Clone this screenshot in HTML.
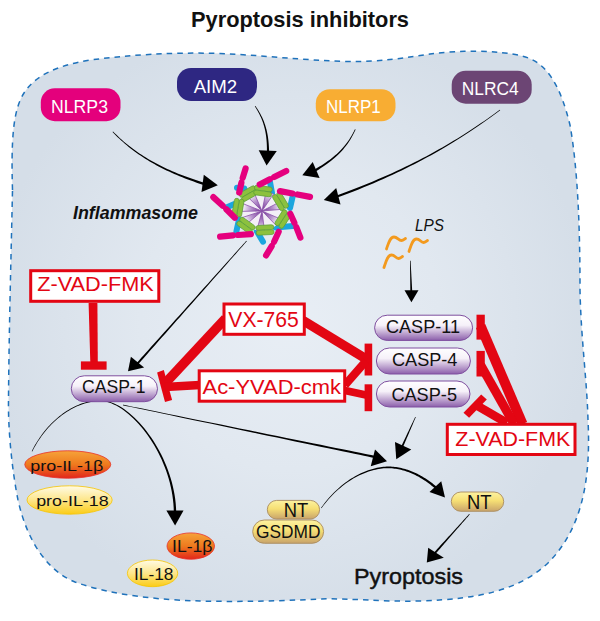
<!DOCTYPE html>
<html><head><meta charset="utf-8">
<style>
html,body{margin:0;padding:0;background:#fff;}
svg{display:block;}
text{font-family:"Liberation Sans",sans-serif;}
</style></head>
<body>
<svg width="600" height="621" viewBox="0 0 600 621">
<defs>
  <radialGradient id="bg" cx="290" cy="320" r="300" gradientUnits="userSpaceOnUse">
    <stop offset="0" stop-color="#e8eef5"/>
    <stop offset="0.5" stop-color="#e1e8f0"/>
    <stop offset="1" stop-color="#d5dee8"/>
  </radialGradient>
  <linearGradient id="casp" x1="0" y1="0" x2="0" y2="1">
    <stop offset="0" stop-color="#ffffff"/>
    <stop offset="0.4" stop-color="#f6f1f9"/>
    <stop offset="1" stop-color="#8c5fab"/>
  </linearGradient>
  <linearGradient id="gold" x1="0" y1="0" x2="0" y2="1">
    <stop offset="0" stop-color="#fdf2a0"/>
    <stop offset="0.45" stop-color="#f6df74"/>
    <stop offset="1" stop-color="#c9a46b"/>
  </linearGradient>
  <linearGradient id="orng" x1="0" y1="0" x2="0" y2="1">
    <stop offset="0" stop-color="#f6a33a"/>
    <stop offset="0.5" stop-color="#ee7a1e"/>
    <stop offset="1" stop-color="#e2261b"/>
  </linearGradient>
  <linearGradient id="yell" x1="0" y1="0" x2="0" y2="1">
    <stop offset="0" stop-color="#fffbe6"/>
    <stop offset="0.5" stop-color="#fde68a"/>
    <stop offset="1" stop-color="#fbcc16"/>
  </linearGradient>
  <radialGradient id="star" cx="262" cy="211" r="20.5" gradientUnits="userSpaceOnUse">
    <stop offset="0" stop-color="#6e2d92"/>
    <stop offset="0.55" stop-color="#b692cc"/>
    <stop offset="1" stop-color="#ffffff"/>
  </radialGradient>
</defs>

<!-- title -->
<text x="191" y="27.4" font-size="22" font-weight="bold" textLength="218" lengthAdjust="spacingAndGlyphs" fill="#111">Pyroptosis inhibitors</text>

<!-- cell -->
<path id="cell" d="M12.5,190 C11,140 13,110 24,93 C35,76 55,66 90,60 C130,55 170,52 220,53.5 C260,55 300,60 345,61.5 C380,62 405,58 430,54 C460,50 498,50 522,56 C548,62 561,88 570,125 C578,170 580,230 580,290 C581,340 587,380 588,420 C591,480 582,528 549,562 C520,590 480,599 420,601 C380,602 350,598 320,599 C280,601 240,602 200,601 C160,600 110,595 75,582 C50,572 28,545 18,500 C12,470 8,430 8.5,400 C9,330 11,260 12.5,190 Z" fill="url(#bg)" stroke="#1f72bb" stroke-width="1.5" stroke-dasharray="5.5 5"/>

<!-- receptor pills -->
<rect x="40.8" y="88.3" width="79.7" height="32.9" rx="14" fill="#e4007c"/>
<text x="51" y="112.5" font-size="18" fill="#fff" textLength="57" lengthAdjust="spacingAndGlyphs">NLRP3</text>
<rect x="177" y="68" width="80" height="33" rx="14" fill="#2e2782"/>
<text x="193.7" y="93" font-size="19" fill="#fff" textLength="43.5" lengthAdjust="spacingAndGlyphs">AIM2</text>
<rect x="315.8" y="89.2" width="79.7" height="32.1" rx="14" fill="#f8ad33"/>
<text x="326" y="113.3" font-size="18" fill="#fff" textLength="54.8" lengthAdjust="spacingAndGlyphs">NLRP1</text>
<rect x="451.7" y="70.8" width="80" height="32.9" rx="14" fill="#6c4574"/>
<text x="461.8" y="94.7" font-size="18" fill="#fff" textLength="57" lengthAdjust="spacingAndGlyphs">NLRC4</text>

<text x="73" y="218.75" font-size="18" font-weight="bold" font-style="italic" fill="#111" textLength="125" lengthAdjust="spacingAndGlyphs">Inflammasome</text>


<!-- LPS -->
<text x="415" y="230.6" font-size="16.5" font-style="italic" fill="#111" textLength="29" lengthAdjust="spacingAndGlyphs">LPS</text>
<g fill="none" stroke="#f39a1e" stroke-width="2.8" stroke-linecap="round">
  <path d="M386.5,249 C388.5,243 390,237 394,237 C397.5,237 398.5,240.5 401.5,240.5 C403,240.5 404,239.5 405.5,238.5"/>
  <path d="M409,251.5 C411,245.5 412.5,239 416.5,239 C420,239 420.5,242.5 423.5,242.5 C425,242.5 426,241.5 427.5,240.5"/>
  <path d="M384,267.5 C386,261.5 387.5,255 391.5,255 C395,255 395.5,258.5 398.5,258.5 C400,258.5 401,257.5 402.5,256.5"/>
</g>

<!-- black arrows -->
<g fill="#000" stroke="none">
  <path d="M112.55,131.94 L114.22,133.69 L115.92,135.42 L117.65,137.13 L119.41,138.81 L121.20,140.47 L123.03,142.11 L124.88,143.73 L126.77,145.32 L128.69,146.89 L130.64,148.44 L132.62,149.97 L134.64,151.48 L136.69,152.96 L138.77,154.43 L140.89,155.87 L143.04,157.29 L145.23,158.69 L147.45,160.08 L149.70,161.44 L152.00,162.78 L154.32,164.10 L156.68,165.40 L159.08,166.68 L161.52,167.94 L163.99,169.18 L166.50,170.40 L169.04,171.61 L171.63,172.79 L174.25,173.96 L176.91,175.11 L179.61,176.24 L182.34,177.35 L185.12,178.44 L187.93,179.51 L190.79,180.57 L193.68,181.61 L196.62,182.63 L199.59,183.64 L202.61,184.63 L205.66,185.60 L206.34,183.40 L203.28,182.48 L200.27,181.54 L197.30,180.59 L194.37,179.61 L191.48,178.62 L188.63,177.62 L185.82,176.59 L183.05,175.54 L180.31,174.48 L177.62,173.40 L174.96,172.30 L172.34,171.18 L169.76,170.04 L167.21,168.88 L164.71,167.71 L162.23,166.51 L159.80,165.29 L157.40,164.06 L155.03,162.80 L152.70,161.52 L150.41,160.23 L148.15,158.91 L145.93,157.57 L143.74,156.21 L141.58,154.83 L139.45,153.43 L137.36,152.00 L135.31,150.56 L133.28,149.09 L131.29,147.60 L129.32,146.09 L127.39,144.56 L125.50,143.00 L123.63,141.42 L121.79,139.82 L119.98,138.19 L118.21,136.55 L116.46,134.87 L114.74,133.18 L113.05,131.46Z"/>
  <path d="M254.81,106.29 L255.38,107.19 L255.94,108.09 L256.49,108.99 L257.03,109.90 L257.55,110.81 L258.06,111.72 L258.56,112.64 L259.05,113.56 L259.53,114.49 L259.99,115.43 L260.44,116.38 L260.88,117.33 L261.30,118.30 L261.71,119.28 L262.10,120.28 L262.48,121.28 L262.85,122.30 L263.20,123.34 L263.54,124.39 L263.86,125.46 L264.17,126.55 L264.46,127.66 L264.74,128.79 L265.00,129.94 L265.25,131.11 L265.48,132.31 L265.69,133.52 L265.89,134.77 L266.07,136.04 L266.23,137.34 L266.38,138.66 L266.51,140.02 L266.62,141.40 L266.72,142.81 L266.79,144.26 L266.85,145.74 L266.89,147.25 L266.91,148.80 L266.92,150.38 L266.90,152.01 L269.10,151.99 L269.07,150.36 L269.01,148.75 L268.94,147.18 L268.85,145.64 L268.75,144.14 L268.62,142.67 L268.48,141.23 L268.32,139.83 L268.15,138.45 L267.96,137.10 L267.75,135.79 L267.53,134.50 L267.29,133.23 L267.03,132.00 L266.76,130.78 L266.47,129.59 L266.16,128.43 L265.85,127.29 L265.51,126.16 L265.16,125.06 L264.80,123.98 L264.42,122.92 L264.03,121.87 L263.63,120.84 L263.21,119.83 L262.77,118.83 L262.33,117.85 L261.87,116.87 L261.39,115.92 L260.91,114.97 L260.41,114.03 L259.90,113.10 L259.38,112.18 L258.84,111.27 L258.29,110.37 L257.74,109.47 L257.17,108.57 L256.59,107.68 L255.99,106.79 L255.39,105.91Z"/>
  <path d="M354.98,129.15 L354.42,130.31 L353.84,131.46 L353.25,132.59 L352.65,133.71 L352.04,134.82 L351.41,135.91 L350.76,137.00 L350.10,138.07 L349.43,139.13 L348.73,140.18 L348.01,141.22 L347.28,142.26 L346.52,143.28 L345.74,144.30 L344.94,145.31 L344.11,146.31 L343.26,147.30 L342.38,148.29 L341.48,149.28 L340.54,150.26 L339.58,151.23 L338.59,152.20 L337.56,153.17 L336.51,154.13 L335.42,155.10 L334.30,156.05 L333.14,157.01 L331.95,157.97 L330.71,158.93 L329.45,159.88 L328.14,160.84 L326.79,161.80 L325.40,162.76 L323.97,163.72 L322.49,164.68 L320.98,165.65 L319.41,166.62 L317.80,167.59 L316.15,168.57 L314.44,169.55 L315.56,171.45 L317.25,170.41 L318.90,169.38 L320.51,168.35 L322.06,167.33 L323.58,166.31 L325.05,165.30 L326.47,164.29 L327.86,163.28 L329.20,162.27 L330.50,161.27 L331.76,160.26 L332.99,159.26 L334.18,158.26 L335.33,157.25 L336.45,156.25 L337.53,155.24 L338.58,154.23 L339.59,153.22 L340.58,152.21 L341.53,151.19 L342.46,150.17 L343.35,149.15 L344.22,148.12 L345.06,147.08 L345.87,146.04 L346.66,145.00 L347.43,143.95 L348.17,142.89 L348.89,141.82 L349.59,140.74 L350.27,139.66 L350.92,138.57 L351.56,137.47 L352.19,136.35 L352.79,135.23 L353.39,134.10 L353.96,132.95 L354.53,131.80 L355.08,130.63 L355.62,129.45Z"/>
  <path d="M499.79,109.72 L496.76,111.96 L493.70,114.19 L490.59,116.43 L487.45,118.66 L484.26,120.89 L481.03,123.12 L477.75,125.35 L474.43,127.58 L471.06,129.80 L467.64,132.02 L464.18,134.23 L460.66,136.45 L457.09,138.65 L453.47,140.86 L449.79,143.06 L446.06,145.25 L442.27,147.44 L438.42,149.62 L434.51,151.79 L430.55,153.96 L426.52,156.13 L422.43,158.28 L418.27,160.43 L414.05,162.57 L409.76,164.70 L405.41,166.82 L400.98,168.94 L396.49,171.04 L391.92,173.14 L387.28,175.22 L382.57,177.30 L377.78,179.36 L372.91,181.42 L367.97,183.46 L362.95,185.49 L357.85,187.51 L352.67,189.52 L347.41,191.51 L342.06,193.50 L336.62,195.47 L337.38,197.53 L342.81,195.52 L348.15,193.48 L353.42,191.44 L358.59,189.39 L363.69,187.32 L368.71,185.24 L373.65,183.15 L378.51,181.05 L383.29,178.94 L388.00,176.82 L392.64,174.70 L397.20,172.56 L401.69,170.41 L406.10,168.26 L410.45,166.09 L414.74,163.92 L418.95,161.74 L423.10,159.56 L427.18,157.36 L431.20,155.16 L435.16,152.96 L439.06,150.74 L442.90,148.53 L446.68,146.30 L450.40,144.07 L454.07,141.84 L457.68,139.61 L461.24,137.36 L464.74,135.12 L468.20,132.87 L471.60,130.62 L474.96,128.37 L478.27,126.11 L481.53,123.85 L484.75,121.59 L487.93,119.33 L491.06,117.07 L494.15,114.81 L497.20,112.54 L500.21,110.28Z"/>
  <path d="M246.44,240.67 L246.24,240.89 L245.64,241.55 L244.68,242.63 L243.37,244.09 L241.73,245.92 L239.78,248.09 L237.54,250.58 L235.03,253.37 L232.28,256.44 L229.30,259.76 L226.12,263.30 L222.75,267.06 L219.21,270.99 L215.53,275.09 L211.73,279.32 L207.83,283.67 L203.84,288.11 L199.79,292.62 L195.71,297.17 L191.60,301.75 L187.49,306.33 L183.40,310.88 L179.35,315.39 L175.36,319.83 L171.46,324.18 L167.66,328.41 L163.98,332.51 L160.45,336.45 L157.08,340.20 L153.89,343.75 L150.91,347.06 L148.16,350.13 L145.65,352.92 L143.42,355.41 L141.47,357.59 L139.82,359.41 L138.51,360.88 L137.55,361.95 L136.96,362.61 L136.75,362.83 L138.25,364.17 L138.45,363.94 L139.03,363.27 L139.99,362.19 L141.29,360.72 L142.92,358.88 L144.85,356.69 L147.07,354.18 L149.55,351.37 L152.28,348.28 L155.23,344.94 L158.39,341.37 L161.73,337.59 L165.23,333.63 L168.88,329.50 L172.64,325.24 L176.51,320.86 L180.47,316.39 L184.48,311.85 L188.53,307.26 L192.60,302.65 L196.68,298.04 L200.73,293.45 L204.74,288.91 L208.69,284.44 L212.56,280.06 L216.33,275.80 L219.98,271.67 L223.48,267.71 L226.82,263.93 L229.97,260.36 L232.93,257.02 L235.66,253.93 L238.14,251.12 L240.36,248.61 L242.29,246.42 L243.92,244.58 L245.22,243.11 L246.17,242.02 L246.76,241.36 L246.96,241.13Z"/>
  <path d="M410.00,260.81 L410.00,260.87 L410.00,261.04 L410.01,261.31 L410.01,261.68 L410.02,262.15 L410.02,262.71 L410.03,263.34 L410.04,264.06 L410.05,264.84 L410.05,265.69 L410.07,266.59 L410.08,267.55 L410.09,268.56 L410.10,269.61 L410.11,270.69 L410.12,271.80 L410.14,272.93 L410.15,274.09 L410.16,275.25 L410.18,276.42 L410.19,277.59 L410.20,278.75 L410.21,279.91 L410.23,281.04 L410.24,282.15 L410.25,283.23 L410.26,284.28 L410.27,285.29 L410.29,286.25 L410.30,287.15 L410.31,288.00 L410.31,288.78 L410.32,289.50 L410.33,290.13 L410.34,290.69 L410.34,291.16 L410.34,291.53 L410.35,291.80 L410.35,291.97 L410.35,292.03 L412.25,291.97 L412.25,291.91 L412.24,291.74 L412.22,291.47 L412.20,291.10 L412.18,290.63 L412.15,290.08 L412.12,289.44 L412.08,288.73 L412.04,287.94 L411.99,287.10 L411.94,286.19 L411.89,285.23 L411.84,284.23 L411.78,283.18 L411.73,282.10 L411.67,280.99 L411.61,279.86 L411.55,278.71 L411.49,277.55 L411.42,276.38 L411.36,275.21 L411.30,274.05 L411.24,272.90 L411.18,271.77 L411.12,270.66 L411.06,269.58 L411.01,268.53 L410.96,267.53 L410.91,266.57 L410.86,265.66 L410.81,264.82 L410.77,264.03 L410.73,263.32 L410.70,262.68 L410.67,262.13 L410.65,261.66 L410.63,261.29 L410.61,261.02 L410.60,260.85 L410.60,260.79Z"/>
  <path d="M32.27,451.54 L33.27,449.57 L34.31,447.62 L35.40,445.68 L36.53,443.76 L37.70,441.87 L38.91,439.99 L40.16,438.14 L41.46,436.31 L42.79,434.51 L44.16,432.74 L45.57,430.99 L47.01,429.28 L48.49,427.60 L50.01,425.96 L51.56,424.35 L53.15,422.78 L54.76,421.25 L56.42,419.76 L58.10,418.31 L59.81,416.91 L61.56,415.56 L63.33,414.25 L65.14,413.00 L66.97,411.79 L68.83,410.64 L70.71,409.55 L72.62,408.51 L74.56,407.53 L76.52,406.61 L78.51,405.75 L80.52,404.95 L82.55,404.22 L84.60,403.55 L86.68,402.96 L88.77,402.43 L90.89,401.97 L93.02,401.59 L95.17,401.28 L97.34,401.05 L99.54,400.90 L99.46,399.90 L97.25,400.07 L95.05,400.31 L92.86,400.63 L90.70,401.03 L88.55,401.51 L86.43,402.05 L84.33,402.66 L82.25,403.35 L80.19,404.10 L78.16,404.92 L76.16,405.79 L74.17,406.74 L72.22,407.74 L70.29,408.80 L68.39,409.91 L66.51,411.09 L64.67,412.31 L62.85,413.59 L61.07,414.91 L59.31,416.29 L57.59,417.71 L55.90,419.17 L54.24,420.68 L52.61,422.23 L51.02,423.82 L49.47,425.45 L47.95,427.11 L46.46,428.81 L45.02,430.54 L43.61,432.30 L42.24,434.09 L40.90,435.91 L39.61,437.76 L38.36,439.63 L37.15,441.52 L35.98,443.44 L34.85,445.37 L33.77,447.32 L32.73,449.29 L31.73,451.26Z"/>
  <path d="M99.48,400.85 L101.77,400.96 L104.09,401.27 L106.45,401.77 L108.85,402.46 L111.27,403.34 L113.73,404.39 L116.20,405.62 L118.69,407.01 L121.18,408.58 L123.68,410.30 L126.18,412.18 L128.67,414.21 L131.15,416.38 L133.61,418.70 L136.04,421.15 L138.45,423.73 L140.83,426.44 L143.16,429.27 L145.45,432.22 L147.69,435.27 L149.87,438.44 L151.99,441.70 L154.05,445.06 L156.03,448.51 L157.94,452.05 L159.77,455.67 L161.51,459.36 L163.15,463.13 L164.70,466.96 L166.15,470.85 L167.49,474.80 L168.71,478.80 L169.82,482.84 L170.80,486.93 L171.65,491.05 L172.37,495.20 L172.95,499.38 L173.38,503.58 L173.67,507.79 L173.80,512.04 L176.20,511.96 L176.02,507.67 L175.69,503.37 L175.20,499.10 L174.56,494.85 L173.79,490.63 L172.88,486.45 L171.84,482.31 L170.67,478.22 L169.39,474.17 L167.99,470.18 L166.49,466.25 L164.88,462.39 L163.17,458.59 L161.37,454.87 L159.49,451.23 L157.52,447.67 L155.47,444.20 L153.36,440.83 L151.18,437.55 L148.94,434.38 L146.64,431.31 L144.30,428.35 L141.91,425.52 L139.48,422.80 L137.01,420.21 L134.52,417.75 L132.00,415.43 L129.47,413.26 L126.92,411.22 L124.36,409.34 L121.81,407.62 L119.25,406.05 L116.70,404.66 L114.16,403.43 L111.65,402.38 L109.15,401.51 L106.68,400.83 L104.25,400.34 L101.85,400.04 L99.52,399.95Z"/>
  <path d="M122.94,405.29 L123.40,405.39 L124.77,405.68 L126.98,406.14 L129.99,406.77 L133.76,407.56 L138.24,408.50 L143.38,409.58 L149.13,410.78 L155.45,412.11 L162.29,413.54 L169.60,415.07 L177.34,416.70 L185.45,418.40 L193.89,420.17 L202.62,421.99 L211.59,423.87 L220.74,425.79 L230.03,427.74 L239.42,429.71 L248.86,431.69 L258.29,433.66 L267.68,435.63 L276.98,437.58 L286.13,439.50 L295.09,441.38 L303.82,443.21 L312.27,444.98 L320.38,446.68 L328.12,448.30 L335.43,449.83 L342.27,451.26 L348.59,452.59 L354.34,453.79 L359.48,454.87 L363.96,455.81 L367.73,456.60 L370.74,457.23 L372.95,457.69 L374.31,457.98 L374.78,458.08 L375.22,455.92 L374.76,455.83 L373.39,455.55 L371.18,455.10 L368.16,454.49 L364.39,453.72 L359.90,452.81 L354.76,451.77 L349.00,450.60 L342.67,449.31 L335.82,447.92 L328.50,446.43 L320.76,444.86 L312.63,443.21 L304.18,441.49 L295.44,439.72 L286.46,437.89 L277.30,436.03 L267.99,434.14 L258.59,432.23 L249.14,430.31 L239.69,428.40 L230.29,426.49 L220.99,424.60 L211.82,422.73 L202.85,420.91 L194.11,419.14 L185.65,417.42 L177.53,415.77 L169.78,414.20 L162.46,412.71 L155.61,411.32 L149.29,410.03 L143.53,408.86 L138.38,407.82 L133.90,406.91 L130.12,406.14 L127.10,405.53 L124.89,405.08 L123.53,404.80 L123.06,404.71Z"/>
  <path d="M415.23,416.88 L415.20,416.93 L415.12,417.09 L415.00,417.35 L414.83,417.71 L414.62,418.15 L414.37,418.68 L414.08,419.29 L413.76,419.97 L413.41,420.72 L413.02,421.52 L412.62,422.39 L412.18,423.30 L411.73,424.26 L411.26,425.25 L410.77,426.28 L410.27,427.34 L409.75,428.42 L409.23,429.52 L408.71,430.63 L408.18,431.74 L407.65,432.86 L407.13,433.97 L406.61,435.06 L406.09,436.14 L405.59,437.20 L405.10,438.23 L404.63,439.23 L404.18,440.19 L403.74,441.10 L403.34,441.96 L402.95,442.77 L402.60,443.52 L402.28,444.20 L401.99,444.80 L401.74,445.33 L401.53,445.78 L401.36,446.13 L401.24,446.39 L401.16,446.56 L401.13,446.61 L402.87,447.39 L402.89,447.33 L402.96,447.17 L403.07,446.90 L403.23,446.54 L403.42,446.09 L403.65,445.55 L403.91,444.93 L404.21,444.24 L404.53,443.48 L404.88,442.66 L405.26,441.78 L405.65,440.85 L406.07,439.88 L406.50,438.86 L406.95,437.81 L407.41,436.74 L407.88,435.64 L408.36,434.52 L408.84,433.39 L409.32,432.26 L409.80,431.12 L410.28,429.99 L410.76,428.88 L411.23,427.78 L411.69,426.70 L412.14,425.65 L412.57,424.64 L412.99,423.66 L413.38,422.73 L413.76,421.85 L414.11,421.03 L414.43,420.27 L414.73,419.58 L414.99,418.96 L415.22,418.42 L415.41,417.97 L415.57,417.61 L415.68,417.34 L415.75,417.18 L415.77,417.12Z"/>
  <path d="M321.45,508.15 L323.26,505.73 L325.09,503.41 L326.93,501.17 L328.79,499.02 L330.67,496.96 L332.56,494.98 L334.46,493.08 L336.37,491.27 L338.29,489.53 L340.22,487.88 L342.15,486.30 L344.08,484.79 L346.02,483.37 L347.95,482.01 L349.88,480.73 L351.80,479.52 L353.72,478.37 L355.63,477.30 L357.53,476.29 L359.42,475.35 L361.30,474.48 L363.16,473.66 L365.00,472.91 L366.82,472.22 L368.62,471.59 L370.40,471.02 L372.16,470.50 L373.89,470.04 L375.59,469.63 L377.26,469.28 L378.90,468.97 L380.51,468.72 L382.08,468.51 L383.61,468.36 L385.11,468.25 L386.56,468.18 L387.97,468.16 L389.34,468.18 L390.66,468.24 L391.93,468.34 L393.26,468.47 L394.57,468.63 L395.87,468.82 L397.16,469.03 L398.45,469.27 L399.71,469.54 L400.97,469.83 L402.22,470.14 L403.46,470.48 L404.69,470.85 L405.90,471.23 L407.11,471.64 L408.31,472.07 L409.49,472.52 L410.67,472.99 L411.84,473.49 L413.00,474.00 L414.14,474.53 L415.28,475.09 L416.41,475.66 L417.53,476.25 L418.64,476.86 L419.75,477.49 L420.84,478.13 L421.92,478.79 L423.00,479.47 L424.07,480.16 L425.13,480.87 L426.18,481.59 L427.22,482.33 L428.25,483.08 L429.28,483.84 L430.30,484.62 L431.31,485.41 L432.31,486.22 L433.30,487.03 L434.29,487.86 L435.27,488.69 L436.24,489.54 L437.21,490.40 L438.79,488.60 L437.80,487.74 L436.80,486.89 L435.79,486.06 L434.78,485.23 L433.75,484.41 L432.72,483.61 L431.68,482.81 L430.63,482.04 L429.57,481.27 L428.50,480.52 L427.42,479.78 L426.34,479.05 L425.25,478.34 L424.14,477.65 L423.03,476.97 L421.91,476.31 L420.78,475.67 L419.64,475.04 L418.50,474.43 L417.34,473.84 L416.17,473.27 L414.99,472.72 L413.81,472.18 L412.61,471.67 L411.40,471.18 L410.19,470.71 L408.96,470.27 L407.72,469.84 L406.48,469.44 L405.22,469.06 L403.95,468.71 L402.67,468.38 L401.39,468.07 L400.09,467.79 L398.78,467.53 L397.46,467.31 L396.13,467.10 L394.79,466.93 L393.43,466.78 L392.07,466.66 L390.75,466.58 L389.37,466.53 L387.96,466.53 L386.50,466.58 L385.00,466.67 L383.46,466.80 L381.89,466.99 L380.28,467.22 L378.64,467.50 L376.96,467.83 L375.26,468.22 L373.53,468.66 L371.77,469.16 L369.99,469.71 L368.19,470.32 L366.36,470.99 L364.52,471.71 L362.66,472.50 L360.78,473.36 L358.89,474.27 L356.99,475.25 L355.08,476.30 L353.16,477.41 L351.23,478.60 L349.30,479.85 L347.37,481.17 L345.43,482.57 L343.50,484.04 L341.57,485.58 L339.65,487.20 L337.73,488.90 L335.82,490.68 L333.92,492.53 L332.03,494.47 L330.15,496.49 L328.29,498.59 L326.45,500.77 L324.63,503.05 L322.83,505.41 L321.05,507.85Z"/>
  <path d="M469.24,513.97 L469.17,514.04 L468.98,514.25 L468.66,514.60 L468.23,515.07 L467.69,515.66 L467.05,516.36 L466.32,517.16 L465.50,518.06 L464.59,519.05 L463.62,520.12 L462.57,521.26 L461.47,522.47 L460.31,523.74 L459.10,525.06 L457.85,526.42 L456.57,527.82 L455.26,529.26 L453.94,530.71 L452.59,532.18 L451.25,533.65 L449.90,535.13 L448.56,536.59 L447.23,538.05 L445.92,539.48 L444.64,540.88 L443.39,542.24 L442.19,543.56 L441.03,544.83 L439.92,546.04 L438.88,547.18 L437.90,548.25 L437.00,549.24 L436.17,550.14 L435.44,550.94 L434.80,551.64 L434.26,552.23 L433.83,552.70 L433.51,553.05 L433.32,553.26 L433.25,553.33 L434.75,554.67 L434.81,554.59 L435.00,554.37 L435.31,554.02 L435.73,553.54 L436.25,552.94 L436.87,552.22 L437.59,551.40 L438.39,550.48 L439.27,549.47 L440.22,548.38 L441.23,547.21 L442.31,545.98 L443.44,544.68 L444.61,543.33 L445.83,541.94 L447.07,540.50 L448.34,539.04 L449.64,537.56 L450.94,536.06 L452.25,534.55 L453.57,533.04 L454.87,531.54 L456.16,530.06 L457.44,528.59 L458.68,527.16 L459.90,525.77 L461.07,524.42 L462.20,523.12 L463.27,521.89 L464.29,520.72 L465.24,519.63 L466.12,518.62 L466.92,517.70 L467.63,516.88 L468.26,516.16 L468.78,515.56 L469.20,515.08 L469.51,514.72 L469.70,514.51 L469.76,514.43Z"/>
</g>
<g fill="#000">
  <polygon points="203.8,174.8 201.5,191.9 217.8,185.3"/>
  <polygon points="258.7,150.3 276.8,151.1 266.6,165.6"/>
  <polygon points="312.7,162 319.6,178 302.3,175.3"/>
  <polygon points="336.2,188 340.5,204.5 323.8,200"/>
  <polygon points="130.9,356.7 144.1,367.6 128,371.2"/>
  <polygon points="404.5,290.3 418.5,290.3 411.4,302.3"/>
  <polygon points="166.4,510.5 183.5,510.5 175.1,525.5"/>
  <polygon points="375,449.5 370.75,466.25 387,461.25"/>
  <polygon points="395,442 411.25,449.5 396.25,459.25"/>
  <polygon points="429.5,492 441.25,481.25 445,497.5"/>
  <polygon points="428.2,547.8 443.8,557.8 426.8,562.5"/>
</g>

<!-- red inhibitors -->
<g fill="#e30613" stroke="none">
  <polygon points="88.6,303 97.4,303 97.8,362 90.3,362"/>
  <rect x="80.9" y="361.4" width="25.7" height="8.3"/>
  <polygon points="157.1,372.6 163.8,370 172.1,400.1 165,401.9"/>
  <rect x="364.6" y="343.6" width="7.6" height="31.9"/>
  <rect x="364.6" y="384.3" width="7.6" height="26.9"/>
  <rect x="476.5" y="314.7" width="8.3" height="24.9"/>
  <rect x="476.5" y="350.9" width="8.3" height="25.6"/>
  <polygon points="463.5,412.7 481.2,394.6 486.8,399.6 469.1,417.7"/>
</g>
<g fill="none" stroke="#e30613" stroke-linecap="butt">
  <path d="M225.5,318.5 L164.5,384" stroke-width="9.6"/>
  <path d="M200,385 L165,387" stroke-width="8.5"/>
  <path d="M303,320.5 L367,359.5" stroke-width="9.6"/>
  <path d="M345,385 L366,361" stroke-width="8"/>
  <path d="M345,390.5 L366,395" stroke-width="7.5"/>
  <path d="M480.6,326 L522.5,424" stroke-width="10"/>
  <path d="M480.6,365 L514,424" stroke-width="9"/>
  <path d="M476,405 L507,423" stroke-width="8.5"/>
</g>
<g fill="#fff" stroke="#e30613" stroke-width="3">
  <rect x="30.7" y="270.7" width="128.1" height="30.6"/>
  <rect x="224" y="304" width="80.3" height="30.3"/>
  <rect x="199.2" y="370.8" width="145.5" height="30.4"/>
  <rect x="447.3" y="424.3" width="127.7" height="30.2"/>
</g>
<g fill="#e30613" font-size="21">
  <text x="37.2" y="290.7" textLength="116.5" lengthAdjust="spacingAndGlyphs">Z-VAD-FMK</text>
  <text x="228.3" y="326.7" font-size="21.5" textLength="70.5" lengthAdjust="spacingAndGlyphs">VX-765</text>
  <text x="202.5" y="394.1" textLength="138.5" lengthAdjust="spacingAndGlyphs">Ac-YVAD-cmk</text>
  <text x="455.3" y="445.5" textLength="115" lengthAdjust="spacingAndGlyphs">Z-VAD-FMK</text>
</g>

<!-- caspase pills -->
<g fill="url(#casp)" stroke="#7f4f9f" stroke-width="1">
  <rect x="71.3" y="375.8" width="86.2" height="25.9" rx="12.95"/>
  <rect x="374.6" y="315.2" width="98" height="25.2" rx="12.6"/>
  <rect x="376.4" y="348" width="94" height="26" rx="13"/>
  <rect x="376.4" y="381" width="93.6" height="26" rx="13"/>
</g>
<g fill="#111" font-size="18">
  <text x="82" y="393.3" textLength="63.5" lengthAdjust="spacingAndGlyphs">CASP-1</text>
  <text x="386" y="333" textLength="74" lengthAdjust="spacingAndGlyphs">CASP-11</text>
  <text x="392" y="366" textLength="65.4" lengthAdjust="spacingAndGlyphs">CASP-4</text>
  <text x="391.4" y="400.6" textLength="65.6" lengthAdjust="spacingAndGlyphs">CASP-5</text>
</g>

<!-- gold pills -->
<g fill="url(#gold)" stroke="#a98b5e" stroke-width="0.9">
  <rect x="267.3" y="500.4" width="52.3" height="18.6" rx="9.3"/>
  <rect x="252.7" y="520" width="70.9" height="23.3" rx="11.6"/>
  <rect x="451.3" y="492" width="52.4" height="19.3" rx="9.6"/>
</g>
<g fill="#111" font-size="18">
  <text x="283.8" y="516.6" font-size="19.5" textLength="24.5" lengthAdjust="spacingAndGlyphs">NT</text>
  <text x="256" y="538" font-size="17.5" textLength="64.5" lengthAdjust="spacingAndGlyphs">GSDMD</text>
  <text x="467" y="508.6" font-size="19.5" textLength="24.5" lengthAdjust="spacingAndGlyphs">NT</text>
</g>

<!-- interleukins -->
<ellipse cx="67.75" cy="464.5" rx="43" ry="13.75" fill="url(#orng)" stroke="#e8312a" stroke-width="0.8"/>
<ellipse cx="69.6" cy="500" rx="42.6" ry="14.2" fill="url(#yell)" stroke="#f6c400" stroke-width="0.8"/>
<ellipse cx="190.75" cy="546.1" rx="23.75" ry="13.2" fill="url(#orng)" stroke="#e8312a" stroke-width="0.8"/>
<ellipse cx="152.55" cy="573.35" rx="25.15" ry="13.35" fill="url(#yell)" stroke="#f6c400" stroke-width="0.8"/>
<g fill="#111" font-size="15.5">
  <text x="30.3" y="470.5" textLength="73" lengthAdjust="spacingAndGlyphs">pro-IL-1β</text>
  <text x="36.2" y="505.5" textLength="72.5" lengthAdjust="spacingAndGlyphs">pro-IL-18</text>
  <text x="172" y="551.7" font-size="16.5" textLength="40.5" lengthAdjust="spacingAndGlyphs">IL-1β</text>
  <text x="134" y="580.3" font-size="16.5" textLength="39.5" lengthAdjust="spacingAndGlyphs">IL-18</text>
</g>

<text x="354" y="583.5" font-size="22.5" fill="#111" stroke="#111" stroke-width="0.45" textLength="109" lengthAdjust="spacingAndGlyphs">Pyroptosis</text>

<!-- inflammasome -->
<g id="inflam">
<g stroke="#1ba6de" stroke-width="6" stroke-linecap="round"><line x1="272.0" y1="193.0" x2="270.0" y2="182.0"/><line x1="290.0" y1="208.0" x2="293.0" y2="195.0"/><line x1="275.5" y1="227.5" x2="293.0" y2="226.0"/><line x1="256.8" y1="231.3" x2="263.0" y2="241.7"/><line x1="239.0" y1="219.7" x2="236.4" y2="231.3"/><line x1="234.4" y1="204.0" x2="227.0" y2="207.2"/><line x1="244.3" y1="188.4" x2="237.0" y2="187.8"/></g>
<g fill="url(#star)" stroke="#8a52aa" stroke-width="0.8" stroke-linejoin="round"><circle cx="262" cy="211" r="20" fill="#f3eff7" stroke="none"/><polygon points="262,211 247.38,196.63 253.83,192.20"/><polygon points="262,211 266.26,190.95 273.46,194.00"/><polygon points="262,211 280.30,201.76 282.43,209.28"/><polygon points="262,211 280.80,219.17 276.37,225.62"/><polygon points="262,211 264.53,231.34 256.73,230.81"/><polygon points="262,211 246.39,224.29 242.55,217.47"/><polygon points="262,211 241.50,211.36 242.86,203.65"/></g>
<g fill="#8cc13e" stroke="#5a9f35" stroke-width="0.7"><g transform="translate(248.50 193.70) rotate(-29.6)"><rect x="-9" y="-4.85" width="18" height="4.8" rx="2.4"/><rect x="-9" y="0.05" width="18" height="4.8" rx="2.4"/></g><g transform="translate(263.00 191.00) rotate(8.0)"><rect x="-9" y="-4.85" width="18" height="4.8" rx="2.4"/><rect x="-9" y="0.05" width="18" height="4.8" rx="2.4"/></g><g transform="translate(280.50 201.40) rotate(59.0)"><rect x="-9" y="-4.85" width="18" height="4.8" rx="2.4"/><rect x="-9" y="0.05" width="18" height="4.8" rx="2.4"/></g><g transform="translate(283.00 219.00) rotate(123.0)"><rect x="-9" y="-4.85" width="18" height="4.8" rx="2.4"/><rect x="-9" y="0.05" width="18" height="4.8" rx="2.4"/></g><g transform="translate(265.00 230.00) rotate(-3.0)"><rect x="-9" y="-4.85" width="18" height="4.8" rx="2.4"/><rect x="-9" y="0.05" width="18" height="4.8" rx="2.4"/></g><g transform="translate(246.00 225.50) rotate(36.0)"><rect x="-9" y="-4.85" width="18" height="4.8" rx="2.4"/><rect x="-9" y="0.05" width="18" height="4.8" rx="2.4"/></g><g transform="translate(238.00 207.60) rotate(100.0)"><rect x="-9" y="-4.85" width="18" height="4.8" rx="2.4"/><rect x="-9" y="0.05" width="18" height="4.8" rx="2.4"/></g></g>
<g stroke="#e5007e" stroke-width="6.2" stroke-linecap="round"><line x1="245.6" y1="168.5" x2="242.7" y2="177.9"/><line x1="241.4" y1="182.7" x2="239.2" y2="192.5"/><line x1="286.2" y1="170.9" x2="274.2" y2="176.9"/><line x1="269.8" y1="179.2" x2="259.7" y2="184.5"/><line x1="310.0" y1="196.9" x2="297.5" y2="194.5"/><line x1="292.5" y1="193.5" x2="280.0" y2="191.1"/><line x1="300.4" y1="237.6" x2="296.4" y2="227.3"/><line x1="294.4" y1="222.7" x2="290.3" y2="213.8"/><line x1="266.1" y1="255.4" x2="271.7" y2="246.1"/><line x1="274.1" y1="241.7" x2="278.7" y2="231.8"/><line x1="220.1" y1="236.7" x2="233.1" y2="235.4"/><line x1="238.1" y1="235.0" x2="250.9" y2="234.2"/><line x1="213.3" y1="197.1" x2="222.7" y2="205.8"/><line x1="226.3" y1="209.3" x2="234.8" y2="217.8"/></g>
</g>

</svg>
</body></html>
